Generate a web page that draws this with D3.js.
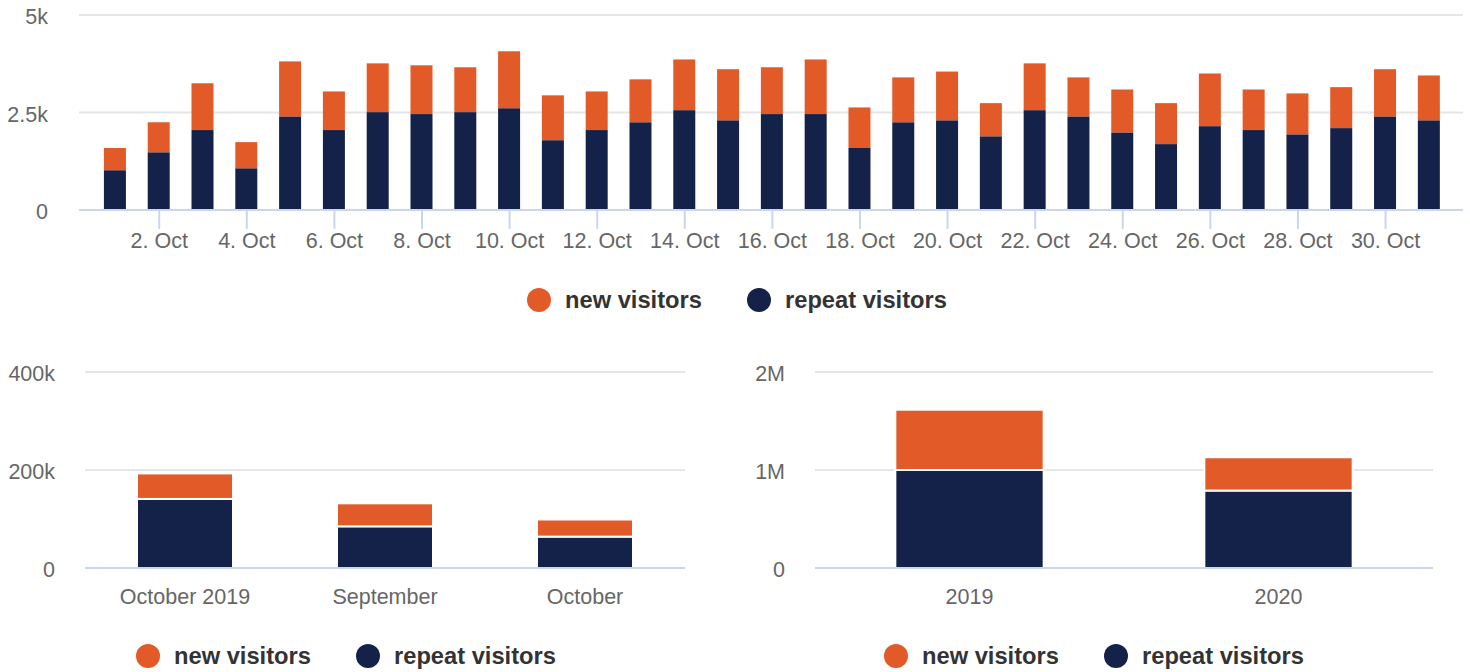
<!DOCTYPE html>
<html>
<head>
<meta charset="utf-8">
<script src="https://cdn.jsdelivr.net/npm/d3@7"></script>
<style>
  body { margin: 0; background: #fff; }
  svg { display: block; font-family: "Liberation Sans", Arial, sans-serif; }
</style>
</head>
<body>
<svg id="chart" width="1470" height="672"></svg>
<script>
const days = d3.range(1, 32);

const dailyRepeat = [1020, 1480, 2050, 1070, 2400, 2050, 2510, 2460, 2510, 2610,
  1790, 2050, 2250, 2560, 2300, 2460, 2460, 1590, 2250, 2300,
  1890, 2560, 2400, 1990, 1690, 2150, 2050, 1940, 2100, 2400, 2300];
const dailyNew = [570, 770, 1200, 670, 1410, 990, 1250, 1250, 1150, 1460,
  1150, 990, 1100, 1300, 1310, 1200, 1400, 1040, 1150, 1250,
  850, 1200, 1000, 1100, 1050, 1350, 1040, 1050, 1050, 1210, 1150];

const monthCats = ['October 2019', 'September', 'October'];
const monthRepeat = [141000, 85000, 64000];
const monthNew = [52000, 47000, 35000];

const yearCats = ['2019', '2020'];
const yearRepeat = [1000000, 790000];
const yearNew = [615000, 340000];

const seriesNames = ['new visitors', 'repeat visitors'];
const colors = {new: '#e25a28', repeat: '#142149'};

const svg = d3.select('#chart');

function yGrid(g, y, left, right, ticks, fmt, labelX) {
  g.selectAll('line.grid')
    .data(ticks.filter(t => t > 0))
    .join('line')
    .attr('x1', left).attr('x2', right)
    .attr('y1', d => y(d)).attr('y2', d => y(d))
    .attr('stroke', '#e6e6e6')
    .attr('stroke-width', 2);
  g.selectAll('text.ylab')
    .data(ticks)
    .join('text')
    .attr('class', 'ylab')
    .attr('x', labelX)
    .attr('y', d => y(d) + 9)
    .attr('text-anchor', 'end')
    .attr('fill', '#666')
    .style('font-size', '21.5px')
    .text(fmt);
}

function legend(g, cx, cy) {
  const items = [
    {name: seriesNames[0], color: colors.new, x: 0},
    {name: seriesNames[1], color: colors.repeat, x: 220}
  ];
  const it = g.selectAll('g.leg').data(items).join('g')
    .attr('transform', d => `translate(${cx + d.x},${cy})`);
  it.append('circle').attr('r', 12).attr('fill', d => d.color);
  it.append('text')
    .attr('x', 26).attr('y', 8)
    .attr('fill', '#333')
    .style('font-size', '23.7px')
    .style('font-weight', 'bold')
    .text(d => d.name);
}

// ---- top chart: daily ----
{
  const left = 79, right = 1463, top = 15, bottom = 210;
  const g = svg.append('g');
  const x = d3.scaleLinear().domain([0.18, 31.78]).range([left, right]);
  const y = d3.scaleLinear().domain([0, 5000]).range([bottom, top]);
  yGrid(g, y, left, right, [0, 2500, 5000], d => d === 0 ? '0' : (d / 1000) + 'k', 48);

  const bw = 22;
  g.selectAll('rect.rep').data(days).join('rect')
    .attr('x', d => x(d) - bw / 2)
    .attr('width', bw)
    .attr('y', (d, i) => y(dailyRepeat[i]))
    .attr('height', (d, i) => y(0) - y(dailyRepeat[i]))
    .attr('fill', colors.repeat);
  g.selectAll('rect.nw').data(days).join('rect')
    .attr('x', d => x(d) - bw / 2)
    .attr('width', bw)
    .attr('y', (d, i) => y(dailyRepeat[i] + dailyNew[i]))
    .attr('height', (d, i) => y(dailyRepeat[i]) - y(dailyRepeat[i] + dailyNew[i]))
    .attr('fill', colors.new);

  const ax = g.append('g')
    .attr('transform', `translate(0,${bottom})`)
    .call(d3.axisBottom(x)
      .tickValues(d3.range(2, 31, 2))
      .tickFormat(d => d + '. Oct')
      .tickSize(19)
      .tickPadding(4));
  ax.select('.domain').attr('stroke', '#ccd6eb').attr('stroke-width', 2)
    .attr('d', `M${left},0H${right}`);
  ax.selectAll('.tick line').attr('stroke', '#ccd6eb').attr('stroke-width', 2);
  ax.selectAll('.tick text').attr('fill', '#666').style('font-size', '21.5px')
    .style('font-family', '"Liberation Sans", Arial, sans-serif');

  legend(svg.append('g'), 539, 300);
}

function stackedCat(cats, rep, nw, left, right, top, bottom, max, ticks, fmt, labelX, legX) {
  const g = svg.append('g');
  const x = d3.scaleBand().domain(cats).range([left, right]).paddingInner(0).paddingOuter(0);
  const y = d3.scaleLinear().domain([0, max]).range([bottom, top]);
  yGrid(g, y, left, right, ticks, fmt, labelX);
  const bw = x.bandwidth() * 0.48;
  const off = (x.bandwidth() - bw) / 2;

  g.selectAll('rect.rep').data(cats).join('rect')
    .attr('x', d => x(d) + off)
    .attr('width', bw)
    .attr('y', (d, i) => y(rep[i]))
    .attr('height', (d, i) => y(0) - y(rep[i]))
    .attr('fill', colors.repeat)
    .attr('stroke', '#fff').attr('stroke-width', 2);
  g.selectAll('rect.nw').data(cats).join('rect')
    .attr('x', d => x(d) + off)
    .attr('width', bw)
    .attr('y', (d, i) => y(rep[i] + nw[i]))
    .attr('height', (d, i) => y(rep[i]) - y(rep[i] + nw[i]))
    .attr('fill', colors.new)
    .attr('stroke', '#fff').attr('stroke-width', 2);

  const ax = g.append('g')
    .attr('transform', `translate(0,${bottom})`)
    .call(d3.axisBottom(x).tickSize(0).tickPadding(21));
  ax.select('.domain').attr('stroke', '#ccd6eb').attr('stroke-width', 2)
    .attr('d', `M${left},0H${right}`);
  ax.selectAll('.tick text').attr('fill', '#666').style('font-size', '21.5px')
    .style('font-family', '"Liberation Sans", Arial, sans-serif');

  legend(svg.append('g'), legX, 656);
}

stackedCat(monthCats, monthRepeat, monthNew, 85, 685, 372, 568, 400000,
  [0, 200000, 400000], d => d === 0 ? '0' : (d / 1000) + 'k', 55, 148);
stackedCat(yearCats, yearRepeat, yearNew, 815, 1433, 372, 568, 2000000,
  [0, 1000000, 2000000], d => d === 0 ? '0' : (d / 1000000) + 'M', 785, 896);
</script>
</body>
</html>
